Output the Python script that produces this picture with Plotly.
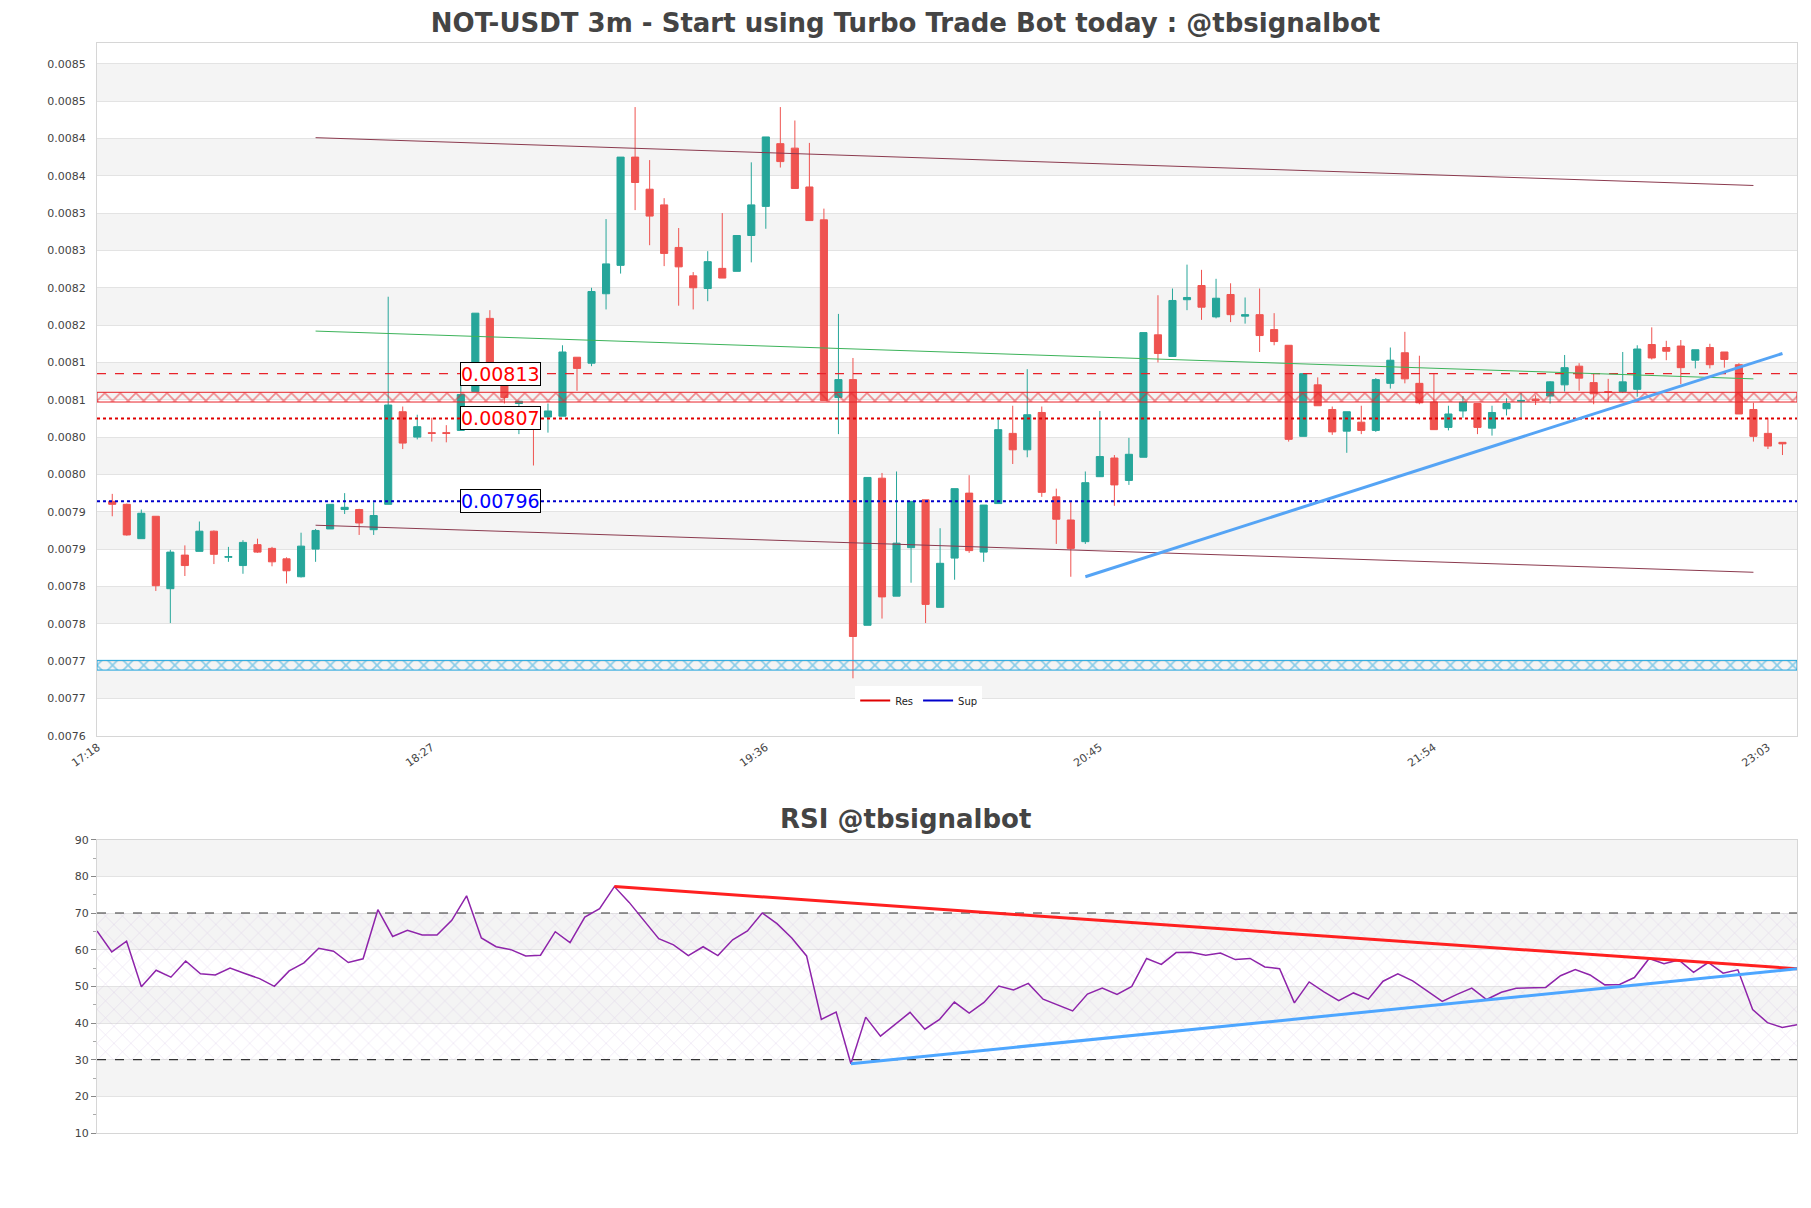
import plotly.graph_objects as go
import pandas as pd

# ---------------- data ----------------
times = list(pd.date_range("2024-06-10 17:21", periods=116, freq="3min"))

opens = [0.007962, 0.007958, 0.007912, 0.007942, 0.007845, 0.007890, 0.007895, 0.007922, 0.007887, 0.007876,
         0.007904, 0.007899, 0.007885, 0.007861, 0.007898, 0.007925, 0.007951, 0.007951, 0.007924, 0.007958,
         0.008082, 0.008048, 0.008054, 0.008054, 0.008057, 0.008109, 0.008207, 0.008135, 0.008093, 0.008086,
         0.008075, 0.008076, 0.008155, 0.008147, 0.008240, 0.008278, 0.008423, 0.008380, 0.008359, 0.008302,
         0.008264, 0.008247, 0.008274, 0.008270, 0.008318, 0.008357, 0.008441, 0.008435, 0.008383, 0.008339,
         0.008101, 0.008125, 0.007796, 0.007993, 0.007835, 0.007900, 0.007964, 0.007820, 0.007886, 0.007973,
         0.007894, 0.007959, 0.008053, 0.008031, 0.008081, 0.007968, 0.007937, 0.007908, 0.007995, 0.008020,
         0.007990, 0.008021, 0.008185, 0.008156, 0.008232, 0.008251, 0.008209, 0.008239, 0.008210, 0.008212,
         0.008192, 0.008171, 0.008049, 0.008118, 0.008085, 0.008056, 0.008068, 0.008057, 0.008120, 0.008161,
         0.008120, 0.008095, 0.008061, 0.008083, 0.008093, 0.008060, 0.008086, 0.008096, 0.008099, 0.008103,
         0.008118, 0.008143, 0.008121, 0.008109, 0.008109, 0.008112, 0.008172, 0.008168, 0.008170, 0.008151,
         0.008168, 0.008162, 0.008145, 0.008085, 0.008053, 0.008041]
highs = [0.007972, 0.007959, 0.007951, 0.007942, 0.007897, 0.007903, 0.007935, 0.007923, 0.007901, 0.007910,
         0.007912, 0.007901, 0.007887, 0.007920, 0.007925, 0.007958, 0.007973, 0.007952, 0.007961, 0.008236,
         0.008089, 0.008078, 0.008074, 0.008064, 0.008119, 0.008214, 0.008218, 0.008137, 0.008097, 0.008089,
         0.008093, 0.008171, 0.008155, 0.008248, 0.008340, 0.008423, 0.008490, 0.008419, 0.008368, 0.008328,
         0.008269, 0.008297, 0.008348, 0.008318, 0.008416, 0.008450, 0.008490, 0.008472, 0.008442, 0.008354,
         0.008213, 0.008154, 0.007994, 0.008000, 0.008002, 0.007962, 0.007964, 0.007926, 0.007979, 0.007997,
         0.007957, 0.008074, 0.008090, 0.008139, 0.008089, 0.007979, 0.007961, 0.008002, 0.008083, 0.008024,
         0.008047, 0.008188, 0.008238, 0.008247, 0.008279, 0.008272, 0.008260, 0.008254, 0.008235, 0.008247,
         0.008214, 0.008171, 0.008133, 0.008128, 0.008089, 0.008082, 0.008090, 0.008127, 0.008168, 0.008189,
         0.008157, 0.008133, 0.008090, 0.008103, 0.008093, 0.008090, 0.008100, 0.008107, 0.008104, 0.008123,
         0.008158, 0.008147, 0.008133, 0.008126, 0.008162, 0.008171, 0.008195, 0.008177, 0.008178, 0.008165,
         0.008173, 0.008162, 0.008147, 0.008094, 0.008074, 0.008041]
lows = [0.007942, 0.007916, 0.007912, 0.007842, 0.007799, 0.007862, 0.007895, 0.007878, 0.007881, 0.007865,
        0.007893, 0.007875, 0.007852, 0.007860, 0.007881, 0.007925, 0.007945, 0.007917, 0.007917, 0.007958,
        0.008032, 0.008045, 0.008042, 0.008041, 0.008057, 0.008109, 0.008135, 0.008093, 0.008052, 0.008010,
        0.008054, 0.008076, 0.008110, 0.008143, 0.008219, 0.008267, 0.008352, 0.008305, 0.008277, 0.008224,
        0.008219, 0.008230, 0.008261, 0.008270, 0.008282, 0.008327, 0.008409, 0.008381, 0.008338, 0.008097,
        0.008052, 0.007725, 0.007796, 0.007805, 0.007835, 0.007853, 0.007799, 0.007820, 0.007857, 0.007893,
        0.007881, 0.007959, 0.008012, 0.008021, 0.007968, 0.007905, 0.007861, 0.007905, 0.007995, 0.007956,
        0.007984, 0.008021, 0.008148, 0.008156, 0.008218, 0.008205, 0.008207, 0.008202, 0.008200, 0.008162,
        0.008171, 0.008042, 0.008049, 0.008090, 0.008051, 0.008027, 0.008052, 0.008055, 0.008113, 0.008120,
        0.008092, 0.008058, 0.008057, 0.008074, 0.008052, 0.008050, 0.008077, 0.008074, 0.008091, 0.008093,
        0.008109, 0.008110, 0.008092, 0.008095, 0.008107, 0.008102, 0.008152, 0.008151, 0.008119, 0.008140,
        0.008140, 0.008141, 0.008079, 0.008042, 0.008032, 0.008024]
closes = [0.007958, 0.007917, 0.007946, 0.007849, 0.007894, 0.007876, 0.007922, 0.007891, 0.007888, 0.007907,
          0.007894, 0.007881, 0.007869, 0.007902, 0.007923, 0.007958, 0.007954, 0.007933, 0.007943, 0.008091,
          0.008040, 0.008062, 0.008053, 0.008053, 0.008105, 0.008214, 0.008135, 0.008101, 0.008096, 0.008074,
          0.008083, 0.008162, 0.008140, 0.008243, 0.008280, 0.008423, 0.008389, 0.008344, 0.008294, 0.008276,
          0.008248, 0.008283, 0.008261, 0.008318, 0.008359, 0.008450, 0.008417, 0.008381, 0.008338, 0.008097,
          0.008125, 0.007781, 0.007994, 0.007834, 0.007906, 0.007962, 0.007824, 0.007879, 0.007979, 0.007896,
          0.007957, 0.008058, 0.008031, 0.008078, 0.007974, 0.007938, 0.007899, 0.007987, 0.008022, 0.007984,
          0.008025, 0.008188, 0.008160, 0.008231, 0.008235, 0.008222, 0.008234, 0.008212, 0.008212, 0.008184,
          0.008176, 0.008045, 0.008133, 0.008090, 0.008055, 0.008082, 0.008057, 0.008125, 0.008151, 0.008126,
          0.008094, 0.008058, 0.008079, 0.008095, 0.008061, 0.008081, 0.008093, 0.008097, 0.008097, 0.008122,
          0.008141, 0.008127, 0.008106, 0.008108, 0.008122, 0.008166, 0.008154, 0.008163, 0.008141, 0.008165,
          0.008145, 0.008152, 0.008079, 0.008049, 0.008036, 0.008039]

rsi = [65.1, 59.4, 62.3, 49.9, 54.4, 52.5, 56.9, 53.4, 53.1, 55.0,
       53.5, 52.1, 50.0, 54.2, 56.4, 60.4, 59.6, 56.5, 57.5, 70.9,
       63.6, 65.3, 64.0, 64.0, 68.0, 74.7, 63.2, 60.8, 60.0, 58.3,
       58.5, 64.9, 61.9, 68.9, 71.2, 77.2, 72.9, 67.8, 63.0, 61.3,
       58.4, 60.8, 58.4, 62.7, 65.1, 70.0, 67.1, 63.2, 58.3, 41.0,
       43.0, 28.9, 41.6, 36.4, 39.7, 42.9, 38.3, 41.0, 45.7, 42.7,
       45.6, 50.1, 49.0, 50.8, 46.5, 44.8, 43.3, 47.9, 49.5, 47.8,
       50.0, 57.6, 56.0, 59.2, 59.3, 58.5, 59.1, 57.3, 57.6, 55.3,
       54.8, 45.5, 51.2, 48.5, 46.1, 48.2, 46.5, 51.4, 53.4, 51.5,
       48.8, 45.9, 47.8, 49.5, 46.4, 48.4, 49.5, 49.7, 49.7, 52.9,
       54.6, 53.1, 50.4, 50.5, 52.4, 57.6, 56.2, 57.2, 53.8, 56.5,
       53.6, 54.5, 43.7, 40.1, 38.8, 39.5]

# horizontal levels
res_dashed = 0.008133
res_dotted = 0.008073
sup_dotted = 0.007962
res_zone = [0.008095, 0.008108]
sup_zone = [0.007736, 0.007749]

# channel (start/end)
channel_x = ["2024-06-10 18:03", "2024-06-10 23:00"]
channel_upper = [0.008449, 0.008385]
channel_mid = [0.008190, 0.008126]
channel_lower = [0.007930, 0.007867]
trend_x = ["2024-06-10 20:42", "2024-06-10 23:06"]
trend_y = [0.007861, 0.008160]

rsi_res_x = ["2024-06-10 19:06", "2024-06-10 23:06"]
rsi_res_y = [77.2, 54.8]
rsi_sup_x = ["2024-06-10 19:54", "2024-06-10 23:06"]
rsi_sup_y = [28.9, 54.8]

x_tick_pos = ["2024-06-10 17:18", "2024-06-10 18:27", "2024-06-10 19:36",
              "2024-06-10 20:45", "2024-06-10 21:54", "2024-06-10 23:03"]
x_tick_text = ["17:18", "18:27", "19:36", "20:45", "21:54", "23:03"]
y_tick_vals = [0.007648, 0.007698, 0.007748, 0.007798, 0.007848, 0.007898, 0.007948, 0.007998,
               0.008048, 0.008098, 0.008148, 0.008198, 0.008248, 0.008298, 0.008348, 0.008398,
               0.008448, 0.008498, 0.008548]
y_tick_text = ["0.0076", "0.0077", "0.0077", "0.0078", "0.0078", "0.0079", "0.0079", "0.0080",
               "0.0080", "0.0081", "0.0081", "0.0082", "0.0082", "0.0083", "0.0083", "0.0084",
               "0.0084", "0.0085", "0.0085"]

X0 = "2024-06-10 17:17:51"
X1 = "2024-06-10 23:09:00"
Y_RANGE = [0.007648, 0.0085758]

FONT = "DejaVu Sans"
GREEN = "#26a69a"
RED = "#ef5350"

fig = go.Figure()

# ----- main chart -----
def band(lo, hi, color):
    return go.Scatter(x=[X0, X1, X1, X0, X0], y=[lo, lo, hi, hi, lo], mode="lines",
                      line=dict(color=color, width=1), fill="toself", fillcolor="rgba(0,0,0,0)",
                      fillpattern=dict(shape="x", fgcolor=color, bgcolor="rgba(255,255,255,0)",
                                       size=11, solidity=0.28),
                      showlegend=False, hoverinfo="skip", xaxis="x", yaxis="y")

fig.add_trace(band(res_zone[0], res_zone[1], "#e8232a"))
fig.add_trace(band(sup_zone[0], sup_zone[1], "#1ca3dc"))

def hline(v, color, dash, width):
    return go.Scatter(x=[X0, X1], y=[v, v], mode="lines", line=dict(color=color, dash=dash, width=width),
                      showlegend=False, hoverinfo="skip", xaxis="x", yaxis="y")

fig.add_trace(hline(res_dashed, "#e8232a", "dash", 1.2))
fig.add_trace(hline(res_dotted, "#e00000", "dot", 2))
fig.add_trace(hline(sup_dotted, "#0000cc", "dot", 2))

for vals, col in [(channel_upper, "#8b3a4e"), (channel_mid, "#3cb35a"), (channel_lower, "#8b3a4e")]:
    fig.add_trace(go.Scatter(x=channel_x, y=vals, mode="lines", line=dict(color=col, width=1),
                             showlegend=False, hoverinfo="skip", xaxis="x", yaxis="y"))

fig.add_trace(go.Candlestick(x=times, open=opens, high=highs, low=lows, close=closes,
                             increasing=dict(line=dict(color=GREEN, width=1), fillcolor=GREEN),
                             decreasing=dict(line=dict(color=RED, width=1), fillcolor=RED),
                             whiskerwidth=0, showlegend=False, xaxis="x", yaxis="y"))

fig.add_trace(go.Scatter(x=trend_x, y=trend_y, mode="lines", line=dict(color="#55a4f5", width=3),
                         showlegend=False, hoverinfo="skip", xaxis="x", yaxis="y"))

# legend entries
fig.add_trace(go.Scatter(x=[None], y=[None], mode="lines", name="Res", line=dict(color="#e00000", width=2),
                         xaxis="x", yaxis="y"))
fig.add_trace(go.Scatter(x=[None], y=[None], mode="lines", name="Sup", line=dict(color="#0000cc", width=2),
                         xaxis="x", yaxis="y"))

# ----- RSI -----
R0, R1 = times[0], times[-1]
fig.add_trace(go.Scatter(x=[R0, R1, R1, R0, R0], y=[30, 30, 70, 70, 30], mode="lines",
                         line=dict(width=0), fill="toself", fillcolor="rgba(0,0,0,0)",
                         fillpattern=dict(shape="x", fgcolor="rgba(185,150,210,0.75)", bgcolor="rgba(0,0,0,0)",
                                          size=12, solidity=0.08),
                         showlegend=False, hoverinfo="skip", xaxis="x2", yaxis="y2"))
for lv in [70, 30]:
    fig.add_trace(go.Scatter(x=[R0, R1], y=[lv, lv], mode="lines", line=dict(color="#333333", dash="dash", width=1.2),
                             showlegend=False, hoverinfo="skip", xaxis="x2", yaxis="y2"))
fig.add_trace(go.Scatter(x=times, y=rsi, mode="lines", line=dict(color="#8e24aa", width=1.5),
                         showlegend=False, xaxis="x2", yaxis="y2"))
fig.add_trace(go.Scatter(x=rsi_res_x, y=rsi_res_y, mode="lines", line=dict(color="#ff2020", width=3),
                         showlegend=False, hoverinfo="skip", xaxis="x2", yaxis="y2"))
fig.add_trace(go.Scatter(x=rsi_sup_x, y=rsi_sup_y, mode="lines", line=dict(color="#4da6ff", width=3),
                         showlegend=False, hoverinfo="skip", xaxis="x2", yaxis="y2"))

# ----- background bands -----
shapes = []
for k in range(1, 18, 2):
    shapes.append(dict(type="rect", xref="x domain", yref="y", x0=0, x1=1,
                       y0=y_tick_vals[k], y1=y_tick_vals[k + 1], fillcolor="#f4f4f4", line=dict(width=0), layer="below"))
for lo in [20, 40, 60, 80]:
    shapes.append(dict(type="rect", xref="x2 domain", yref="y2", x0=0, x1=1,
                       y0=lo, y1=lo + 10, fillcolor="#f4f4f4", line=dict(width=0), layer="below"))

# labels
label_x = "2024-06-10 18:41:15"
annotations = []
for v, txt, col in [(res_dashed, "0.00813", "#ff0000"), (res_dotted, "0.00807", "#ff0000"), (sup_dotted, "0.00796", "#0000ff")]:
    annotations.append(dict(x=label_x, y=v, xref="x", yref="y", text=txt, showarrow=False,
                            font=dict(family=FONT, size=19, color=col), bgcolor="white",
                            bordercolor="black", borderwidth=1, borderpad=0, xanchor="center", yanchor="middle"))
annotations.append(dict(x=0.4756, y=0.288, xref="paper", yref="paper", text="<b>RSI @tbsignalbot</b>",
                        showarrow=False, font=dict(family=FONT, size=26, color="#444444"),
                        xanchor="center", yanchor="middle"))

axis_line = "#d6d6d6"
grid = "#e3e3e3"

fig.update_layout(
    width=1811, height=1208,
    margin=dict(l=97, r=14, t=43, b=75),
    paper_bgcolor="white", plot_bgcolor="white",
    font=dict(family=FONT, size=11, color="#444444"),
    title=dict(text="<b>NOT-USDT 3m - Start using Turbo Trade Bot today : @tbsignalbot</b>",
               x=0.5, xanchor="center", y=1 - 23 / 1208, yanchor="middle",
               font=dict(family=FONT, size=26, color="#444444")),
    xaxis=dict(type="date", domain=[0, 1], anchor="y", range=[X0, X1], rangeslider=dict(visible=False),
               tickmode="array", tickvals=x_tick_pos, ticktext=x_tick_text, tickangle=-35,
               showgrid=False, showline=True, linecolor=axis_line, mirror=True, ticks="",
               tickfont=dict(size=11, color="#444444")),
    yaxis=dict(domain=[0.3644, 1], anchor="x", range=Y_RANGE, tickmode="array",
               tickvals=y_tick_vals, ticktext=y_tick_text, showgrid=True, gridcolor=grid,
               showline=True, linecolor=axis_line, mirror=True, ticks="", ticklabelstandoff=8,
               zeroline=False, tickfont=dict(size=11, color="#444444")),
    xaxis2=dict(type="date", domain=[0, 1], anchor="y2", range=[R0, R1], showticklabels=False,
                showgrid=False, showline=True, linecolor=axis_line, mirror=True, ticks=""),
    yaxis2=dict(domain=[0, 0.2691], anchor="x2", range=[10, 90], tick0=10, dtick=10,
                showgrid=True, gridcolor=grid, showline=True, linecolor=axis_line, mirror=True,
                ticks="outside", ticklen=5, tickcolor="#888888", zeroline=False,
                minor=dict(ticks="outside", ticklen=3, dtick=5, tickcolor="#aaaaaa", showgrid=False),
                tickfont=dict(size=11, color="#444444")),
    legend=dict(orientation="h", x=0.446, y=0.41, xanchor="left", yanchor="top",
                bgcolor="white", font=dict(size=10, color="#222222"), itemwidth=30),
    shapes=shapes,
    annotations=annotations,
    hovermode=False,
)

fig.write_html("out.html")
